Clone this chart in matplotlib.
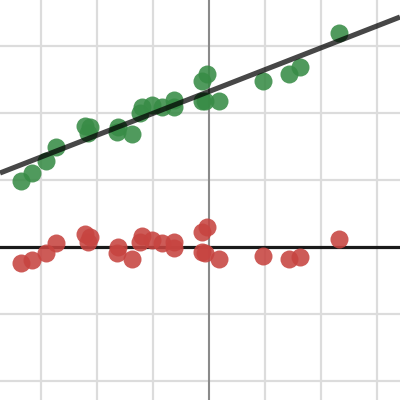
import matplotlib
matplotlib.use("Agg")
import matplotlib.pyplot as plt
import numpy as np

# Data (grid units)
x_vals = [-3.36, -3.16, -2.91, -2.73, -2.21, -2.13, -2.16, -1.63, -1.64, -1.38,
          -1.20, -1.23, -1.02, -0.84, -0.63, -0.63, -0.13, -0.04, -0.13, -0.07,
          0.18, 0.96, 1.43, 1.63, 2.32]
y_vals = [0.99, 1.10, 1.28, 1.49, 1.81, 1.79, 1.70, 1.79, 1.72, 1.69,
          2.09, 2.00, 2.12, 2.09, 2.19, 2.09, 2.48, 2.58, 2.18, 2.18,
          2.18, 2.48, 2.58, 2.69, 3.19]
residuals = [-0.24, -0.19, -0.09, 0.06, 0.19, 0.15, 0.07, 0.00, -0.09, -0.18,
             0.16, 0.07, 0.10, 0.06, 0.07, -0.02, 0.22, 0.30, -0.07, -0.09,
             -0.18, -0.13, -0.18, -0.15, 0.12]
fit_intercept = 2.321
fit_slope = 0.326

xlim = (-3.732, 3.411)
ylim = (-2.284, 3.687)

fig = plt.figure(figsize=(4, 4), dpi=100)
ax = fig.add_axes([0, 0, 1, 1])
ax.set_xlim(*xlim)
ax.set_ylim(*ylim)

# grid
for gx in range(-3, 4):
    if gx == 0:
        continue
    ax.axvline(gx, color="#dcdcdc", lw=1.6, zorder=0)
for gy in range(-2, 4):
    if gy == 0:
        continue
    ax.axhline(gy, color="#dcdcdc", lw=1.6, zorder=0)
ax.axvline(0, color="#8a8a8a", lw=1.5, zorder=1)

# residual baseline
ax.axhline(0, color="#1a1a1a", lw=2.3, zorder=2)

ax.scatter(x_vals, y_vals, s=168, color="#388c46", alpha=0.88, linewidths=0, zorder=3)
ax.scatter(x_vals, residuals, s=168, color="#c74440", alpha=0.88, linewidths=0, zorder=3)

lx = np.array(xlim)
ax.plot(lx, fit_intercept + fit_slope * lx, color="#000000", alpha=0.72, lw=3.7,
        solid_capstyle="butt", zorder=4)

ax.set_xticks([])
ax.set_yticks([])
for s in ax.spines.values():
    s.set_visible(False)

fig.savefig("out.png", dpi=100)
